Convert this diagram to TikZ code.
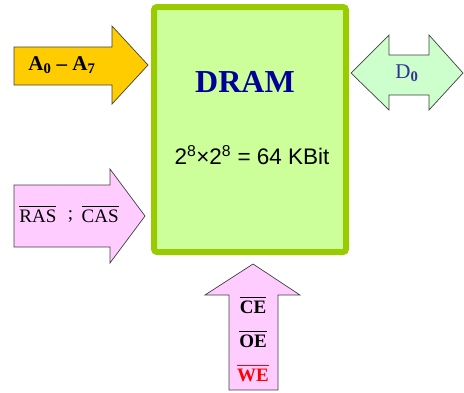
\documentclass[tikz,border=0pt]{standalone}
\usepackage{fontspec}
\setmainfont{Liberation Serif}
\setsansfont{Liberation Sans}
\usetikzlibrary{positioning}
\definecolor{cyellow}{HTML}{FFCC00}
\definecolor{cpink}{HTML}{FFCCFF}
\definecolor{cmint}{HTML}{CCFFCC}
\definecolor{clime}{HTML}{CCFF99}
\definecolor{cleaf}{HTML}{99CC00}
\definecolor{cnavy}{HTML}{000099}
\definecolor{cindigo}{HTML}{333399}
\newcommand{\ovl}[1]{\leavevmode\setbox0\hbox{#1}\rlap{\rule[\dimexpr\ht0+3pt\relax]{\wd0}{1.2pt}}\box0}
\tikzset{
  every picture/.style={line width=0.8pt},
  chip/.style={draw=cleaf, fill=clime, line width=6pt, rounded corners=3pt},
  bus/.style={draw=black!75, fill=#1, line width=0.7pt, line join=miter},
  sig/.style={font=\fontsize{19}{21}\selectfont, inner sep=0pt},
}

\begin{document}
\begin{tikzpicture}[x=1pt, y=-1pt]
  \useasboundingbox (0,0) rectangle (464,392);
  % memory chip
  \draw[chip] (154,7) rectangle (346,252);
  \node[font=\fontsize{32}{35}\selectfont\bfseries, text=cnavy] (dram) at (245,82) {DRAM};
  \node[font=\sffamily\fontsize{22.5}{25}\selectfont] (size) at (252,155) {2\textsuperscript{8}×2\textsuperscript{8} = 64 KBit};
  % address bus
  \draw[bus=cyellow] (14,47) -- (112,47) -- (112,26) -- (148,65) -- (112,104) -- (112,85) -- (14,85) -- cycle;
  \node[sig, font=\fontsize{21}{23}\selectfont\bfseries] (addr) at (62,65) {A\textsubscript{0} – A\textsubscript{7}};
  % strobes
  \draw[bus=cpink] (14,185) -- (110,185) -- (110,169) -- (145,216) -- (110,263) -- (110,247) -- (14,247) -- cycle;
  \node[sig] (strobe) at (69,214) {\ovl{RAS}\hspace{0.6em}\raisebox{3pt}{;}\hspace{0.45em}\ovl{CAS}};
  % data line
  \draw[bus=cmint] (351,73) -- (389,35) -- (389,55) -- (429,55) -- (429,35) -- (463,73)
    -- (429,110) -- (429,95) -- (389,95) -- (389,110) -- cycle;
  \node[sig, font=\fontsize{21}{23}\selectfont, text=cindigo] (data) at (407,73) {D\textsubscript{\bfseries 0}};
  % control lines
  \draw[bus=cpink] (229,390) -- (229,295) -- (205,295) -- (253,264) -- (300,295) -- (278,295) -- (278,390) -- cycle;
  \node[sig, font=\fontsize{19}{21}\selectfont\bfseries] (ce) at (253,305) {\ovl{CE}};
  \node[sig, font=\fontsize{19}{21}\selectfont\bfseries] (oe) at (253,339) {\ovl{OE}};
  \node[sig, font=\fontsize{19}{21}\selectfont\bfseries, text=red] (we) at (253,373) {\ovl{WE}};
\end{tikzpicture}
\end{document}
